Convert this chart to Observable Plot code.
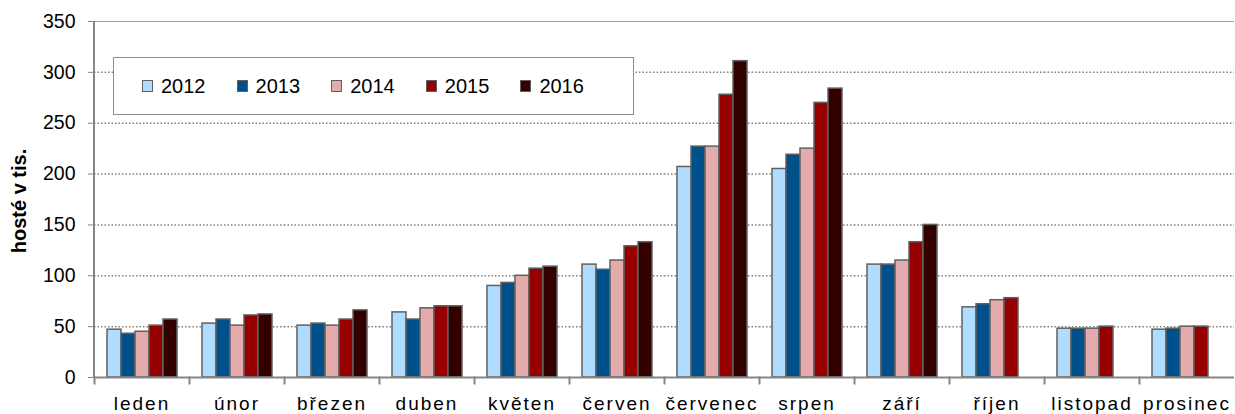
<!DOCTYPE html>
<html>
<head>
<meta charset="utf-8">
<script src="https://cdn.jsdelivr.net/npm/d3@7"></script>
<script src="https://cdn.jsdelivr.net/npm/@observablehq/plot@0.6"></script>
<style>
  html, body { margin: 0; padding: 0; background: #fff; }
  #wrap { position: relative; width: 1235px; height: 414px; font-family: "Liberation Sans", Arial, sans-serif; }
  #legend { position: absolute; left: 113px; top: 57px; width: 491px; height: 56px; border: 1.5px solid #8c8c8c; background: #fff; display: flex; align-items: center; padding-left: 28px; box-sizing: content-box; }
  #legend .item { display: flex; align-items: center; width: 94.6px; font-size: 20px; color: #000; }
  #legend .sw { width: 9px; height: 10px; border: 1.5px solid #606060; margin-right: 8px; }
  #ytitle { position: absolute; left: 19px; top: 201px; transform: translate(-50%, -50%) rotate(-90deg); font-weight: bold; font-size: 20px; white-space: nowrap; }
</style>
</head>
<body>
<div id="wrap"></div>
<script>
const months = ["leden","únor","březen","duben","květen","červen","červenec","srpen","září","říjen","listopad","prosinec"];
const years = ["2012","2013","2014","2015","2016"];
const colors = ["#afdcff","#00508c","#e3abab","#960000","#330000"];
const v2012 = [47, 53, 51, 64, 90, 111, 207, 205, 111, 69, 48, 47];
const v2013 = [43, 57, 53, 57, 93, 106, 227, 219, 111, 72, 48, 48];
const v2014 = [45, 51, 51, 68, 100, 115, 227, 225, 115, 76, 48, 50];
const v2015 = [51, 61, 57, 70, 107, 129, 278, 270, 133, 78, 50, 50];
const v2016 = [57, 62, 66, 70, 109, 133, 311, 284, 150, null, null, null];
const yTicks = [0, 50, 100, 150, 200, 250, 300, 350];
const gridTicks = [50, 100, 150, 200, 250, 300];

const series = [v2012, v2013, v2014, v2015, v2016];
const data = [];
months.forEach((m, i) => {
  years.forEach((y, j) => {
    const v = series[j][i];
    if (v != null) data.push({month: m, year: y, value: v});
  });
});

const W = 1235, H = 414, mTop = 21, mBottom = 37, mLeft = 94, mRight = 1;
const innerH = H - mTop - mBottom;

const chart = Plot.plot({
  width: W,
  height: H,
  marginLeft: mLeft,
  marginRight: mRight,
  marginTop: mTop,
  marginBottom: mBottom,
  style: {fontFamily: "'Liberation Sans', Arial, sans-serif", background: "transparent"},
  fx: {domain: months, padding: 0, label: null, axis: null},
  x: {domain: years, paddingInner: 0, paddingOuter: 0.83, axis: null},
  y: {domain: [0, 350], label: null, axis: null},
  color: {domain: years, range: colors},
  marks: [
    Plot.gridY(gridTicks, {stroke: "#808080", strokeOpacity: 1, strokeWidth: 1.5, strokeDasharray: "1.5,2"}),
    Plot.ruleY([350], {stroke: "#a0a0a0", strokeWidth: 1}),
    Plot.barY(data, {fx: "month", x: "year", y: "value", fill: "year", stroke: "#606060", strokeWidth: 1.5}),
    Plot.ruleY([0], {stroke: "#868686", strokeWidth: 2}),
    Plot.frame({anchor: "left", stroke: "#868686", strokeWidth: 2, insetTop: innerH, insetBottom: -6}),
    Plot.axisY({ticks: yTicks, tickSize: 6, tickPadding: 13, stroke: "#868686", fill: "#000", fontSize: 19.5, label: null, tickFormat: d => String(d)}),
    Plot.axisFx({anchor: "bottom", tickSize: 0, tickPadding: 19, fontSize: 19, fill: "#000", label: null})
  ]
});

const wrap = document.getElementById("wrap");
wrap.appendChild(chart);
d3.select(chart).selectAll("text").filter(function() {
  return months.includes(this.textContent);
}).style("letter-spacing", "2px");

// y-axis line, placed from the chart's own y scale
const ys = chart.scale("y");
d3.select(chart).append("line")
  .attr("x1", mLeft).attr("x2", mLeft)
  .attr("y1", ys.apply(350)).attr("y2", ys.apply(0) + 1)
  .attr("stroke", "#868686").attr("stroke-width", 2);

const legend = document.createElement("div");
legend.id = "legend";
years.forEach((y, i) => {
  const item = document.createElement("div");
  item.className = "item";
  const sw = document.createElement("span");
  sw.className = "sw";
  sw.style.background = colors[i];
  const t = document.createElement("span");
  t.textContent = y;
  item.appendChild(sw);
  item.appendChild(t);
  legend.appendChild(item);
});
wrap.appendChild(legend);

const yt = document.createElement("div");
yt.id = "ytitle";
yt.textContent = "hosté v tis.";
wrap.appendChild(yt);
</script>
</body>
</html>
